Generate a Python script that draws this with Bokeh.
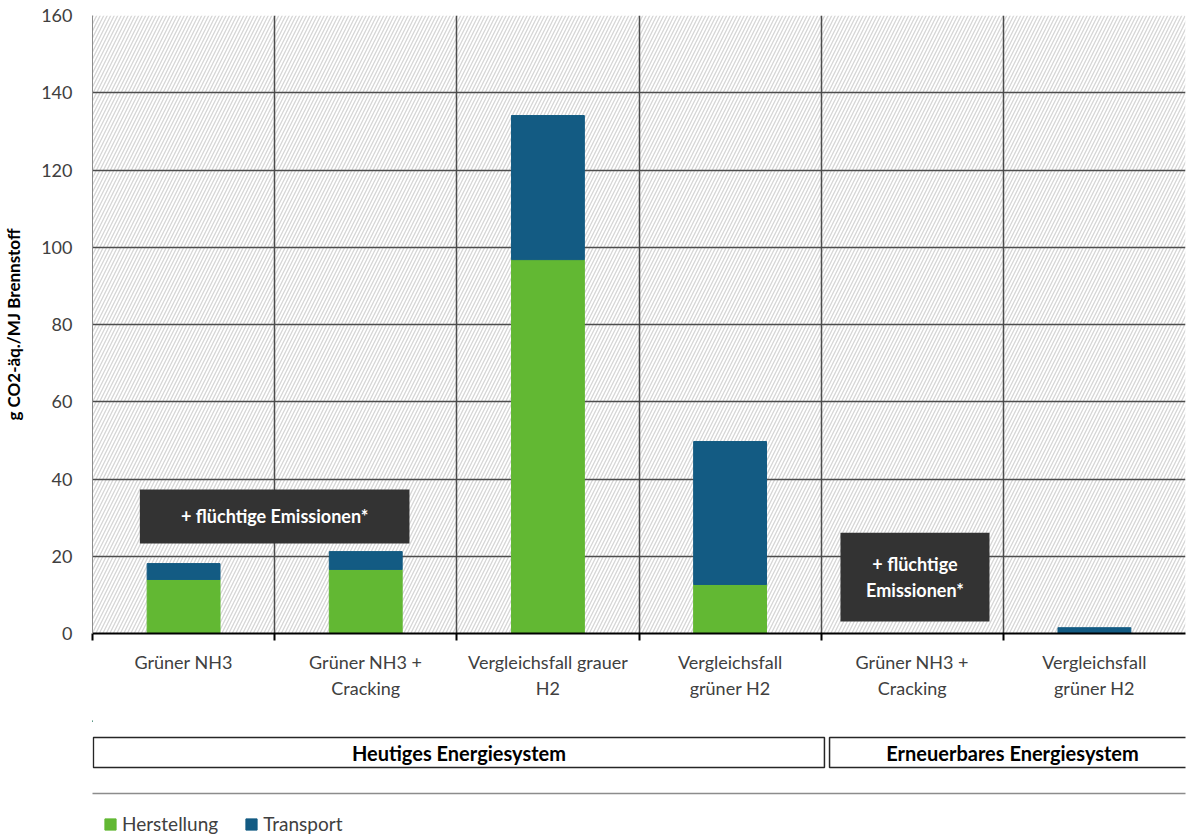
from bokeh.plotting import figure
from bokeh.models import (Range1d, FixedTicker, BoxAnnotation, Label, Legend,
                          LegendItem, ColumnDataSource)
from bokeh.layouts import column
from bokeh.embed import file_html
from bokeh.resources import INLINE
from bokeh.core.properties import value

# ---------------- data ----------------
categories = [
    "Grüner NH3",
    "Grüner NH3 +\nCracking",
    "Vergleichsfall grauer\nH2",
    "Vergleichsfall\ngrüner H2",
    "Grüner NH3 +\nCracking",
    "Vergleichsfall\ngrüner H2",
]
herstellung = [14.0, 16.6, 96.8, 12.7, 0.0, 0.0]
transport = [4.1, 4.6, 37.3, 37.0, 0.0, 1.5]
series = ["Herstellung", "Transport"]
colors = ["#62b833", "#135b83"]
groups = ["Heutiges Energiesystem", "Erneuerbares Energiesystem"]
group_sizes = [4, 2]
y_ticks = [0, 20, 40, 60, 80, 100, 120, 140, 160]
y_title = "g CO2-äq./MJ Brennstoff"
note_texts = ["+ flüchtige Emissionen*", "+ flüchtige\nEmissionen*"]

FONT = "Lato"
TXT = "#404040"

n = len(categories)
xs = [i + 0.5 for i in range(n)]
src = ColumnDataSource(dict(x=xs, Herstellung=herstellung, Transport=transport))

W = 1195
LB, RB, TB, BB = 92, 10, 15, 87
H1 = 720
p1 = figure(width=W, height=H1, x_range=Range1d(0, n), y_range=Range1d(0, y_ticks[-1]),
            output_backend="svg", toolbar_location=None,
            min_border_left=LB, min_border_right=RB, min_border_top=TB, min_border_bottom=BB)
p1.outline_line_color = None
p1.background_fill_color = "white"

# hatched plot background
bg = BoxAnnotation(fill_color="white", fill_alpha=1.0, line_color=None,
                   hatch_pattern="/", hatch_color="#d6d6d6", hatch_weight=1.3,
                   hatch_scale=7, level="image")
p1.add_layout(bg)

bars = p1.vbar_stack(series, x="x", width=0.4, color=colors, source=src)

# x axis
p1.xaxis.ticker = FixedTicker(ticks=xs, minor_ticks=list(range(0, n)))
p1.xaxis.major_label_overrides = {x: c for x, c in zip(xs, categories)}
p1.xaxis.major_tick_line_color = None
p1.xaxis.major_tick_out = 0
p1.xaxis.major_tick_in = 0
p1.xaxis.minor_tick_line_color = "black"
p1.xaxis.minor_tick_line_width = 2
p1.xaxis.minor_tick_out = 7
p1.xaxis.minor_tick_in = 0
p1.xaxis.axis_line_color = "black"
p1.xaxis.axis_line_width = 2
p1.xaxis.major_label_text_font = FONT
p1.xaxis.major_label_text_font_size = "18px"
p1.xaxis.major_label_text_color = TXT
p1.xaxis.major_label_standoff = 10

# y axis
p1.yaxis.ticker = FixedTicker(ticks=y_ticks)
p1.yaxis.major_tick_line_color = None
p1.yaxis.minor_tick_line_color = None
p1.yaxis.major_tick_out = 0
p1.yaxis.major_tick_in = 0
p1.yaxis.axis_line_color = "#8c8c8c"
p1.yaxis.axis_line_width = 1
p1.yaxis.major_label_text_font = FONT
p1.yaxis.major_label_text_font_size = "18px"
p1.yaxis.major_label_text_color = TXT
p1.yaxis.major_label_standoff = 20
p1.yaxis.axis_label = y_title
p1.yaxis.axis_label_text_font = FONT
p1.yaxis.axis_label_text_font_style = "bold"
p1.yaxis.axis_label_text_font_size = "17px"
p1.yaxis.axis_label_text_color = "black"
p1.yaxis.axis_label_standoff = 14

# grids
p1.ygrid.ticker = FixedTicker(ticks=y_ticks[1:])
p1.ygrid.grid_line_color = "#4d4d4d"
p1.ygrid.grid_line_width = 1.5
p1.xgrid.ticker = FixedTicker(ticks=list(range(1, n)))
p1.xgrid.grid_line_color = "#4d4d4d"
p1.xgrid.grid_line_width = 1.5

# annotation boxes
note_boxes = [(0.26, 1.74, 23.3, 37.3), (4.106, 4.924, 3.1, 26.1)]
note_pos = [(1.0, 30.3), (4.515, 14.6)]
for (l, r, b, t), (tx, ty), txt in zip(note_boxes, note_pos, note_texts):
    p1.add_layout(BoxAnnotation(left=l, right=r, bottom=b, top=t, fill_color="#333333",
                                fill_alpha=1.0, line_color=None))
    p1.add_layout(Label(x=tx, y=ty, text=txt, text_align="center", text_baseline="middle",
                        text_color="white", text_font=FONT, text_font_style="bold",
                        text_font_size="18px", text_line_height=1.2))

# ---------------- lower panel: groups, separator, legend ----------------
H2 = 837 - H1
p2 = figure(width=W, height=H2, x_range=Range1d(0, n), y_range=Range1d(H2, 0),
            x_axis_type=None, y_axis_type=None,
            output_backend="svg", toolbar_location=None,
            min_border_left=LB, min_border_right=RB, min_border_top=0, min_border_bottom=0)
p2.grid.visible = False
p2.outline_line_color = None

starts = [sum(group_sizes[:i]) for i in range(len(groups))]
ends = [st + g for st, g in zip(starts, group_sizes)]
box_l = [starts[0] + 0.005, starts[1] + 0.046]
box_r = [ends[0] + 0.018, ends[1] + 0.2]
p2.quad(left=box_l, right=box_r, top=[17, 17], bottom=[47, 47], fill_color="white",
        line_color="#262626", line_width=1.5)
vis_r = [min(r, n + 0.055) for r in box_r]
p2.text(x=[(a + b) / 2 for a, b in zip(box_l, vis_r)], y=[32, 32], text=groups,
        text_align="center", text_baseline="middle", text_font=value(FONT),
        text_font_style="bold", text_font_size="20px", text_color="black")
p2.segment(x0=[-1], x1=[n + 1], y0=[73], y1=[73], line_color="#8c8c8c", line_width=1.5)

# legend proxies (kept outside the visible range; only their legend swatches show)
items = []
for name, c in zip(series, colors):
    r = p2.vbar(x=[-10], top=[0], bottom=[1], width=0.1, fill_color=c, line_color=c)
    items.append(LegendItem(label=name, renderers=[r]))
legend = Legend(items=items, orientation="horizontal", location=(11, 2),
                border_line_color=None, background_fill_alpha=0, padding=0, margin=0,
                spacing=26, label_standoff=5, glyph_width=14, glyph_height=14,
                label_text_font=FONT, label_text_font_size="19px", label_text_color=TXT)
p2.add_layout(legend)

layout = column(p1, p2, spacing=0)
open("out.html", "w").write(file_html(layout, INLINE))
